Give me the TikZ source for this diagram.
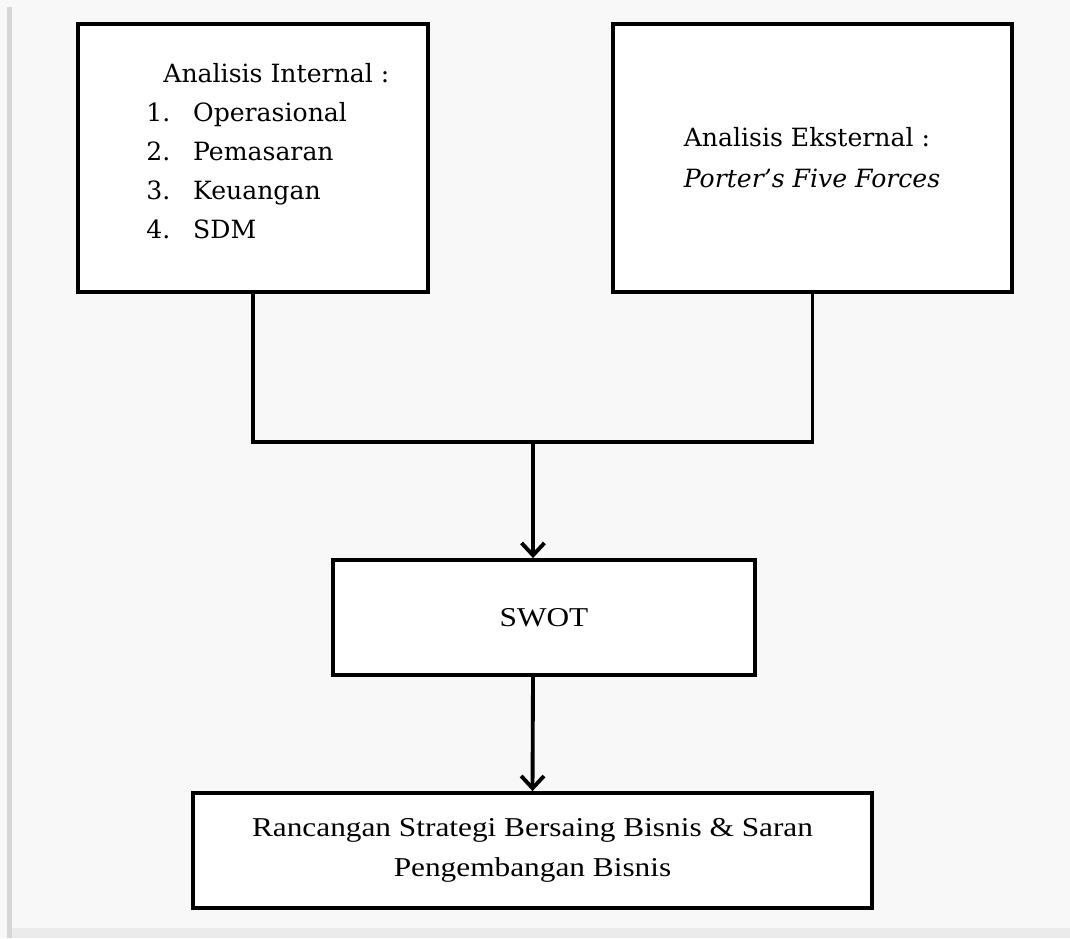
\documentclass[tikz,border=0pt]{standalone}
\usepackage{fontspec}
\usepackage{tikz}
\usetikzlibrary{arrows.meta}
\newfontfamily\cambriaface{DejaVu Serif}
\newfontfamily\timesface[FakeStretch=1.15]{Liberation Serif}
\definecolor{fond}{HTML}{F8F8F8}
\definecolor{marge}{HTML}{D6D6D6}
\tikzset{
  boite/.style={draw, line width=2.2pt, fill=white, inner sep=0pt},
  lien/.style={line width=2.2pt},
  fleche/.style={lien, -{Straight Barb[length=7pt,width=13pt]}}
}

\begin{document}
\begin{tikzpicture}[x=0.02cm, y=-0.02cm]
    \useasboundingbox (0,0) rectangle (1070,938);
    % Fond
    \fill[fond] (0,0) rectangle (1070,938);
    \fill[marge] (7,7) rectangle (12,938);
    \fill[marge!50] (12,928) rectangle (1070,938);
    % Analyse interne
    \node[boite, minimum width=7cm, minimum height=5.36cm] (interne) at (253,158) {};
    \node[anchor=west, inner sep=0pt, font=\cambriaface\fontsize{14.3}{22.2}\selectfont] (listeinterne) at (146,153) {%
      \begin{tabular}{@{}l@{\hspace{13pt}}l@{}}
        \multicolumn{2}{@{\hspace{9.7pt}}l@{}}{Analisis Internal :} \\
        1. & Operasional \\
        2. & Pemasaran \\
        3. & Keuangan \\
        4. & SDM
      \end{tabular}};
    % Analyse externe
    \node[boite, minimum width=7.98cm, minimum height=5.36cm] (externe) at (812.5,158) {};
    \node[inner sep=0pt, font=\cambriaface\fontsize{14.3}{22.8}\selectfont] (listeexterne) at (812,159) {%
      \begin{tabular}{@{}l@{}}
        Analisis Eksternal : \\
        \textit{Porter’s Five Forces}
      \end{tabular}};
    % SWOT et rancangan
    \node[boite, minimum width=8.44cm, minimum height=2.3cm, font=\timesface\fontsize{15.5}{22.8}\selectfont] (swot) at (544,617.5) {SWOT};
    \node[boite, minimum width=13.58cm, minimum height=2.3cm, align=center, font=\timesface\fontsize{15.5}{22.8}\selectfont] (rancangan) at (532.5,850.5) {Rancangan Strategi Bersaing Bisnis \& Saran\\Pengembangan Bisnis};
    % Liens
    \coordinate (jonction) at (533,442);
    \draw[lien] (interne.south) |- (jonction) -| (externe.south);
    \draw[fleche] (jonction) -- (jonction |- swot.north);
    \draw[fleche] (jonction |- swot.south) -- (rancangan.north);
\end{tikzpicture}
\end{document}
